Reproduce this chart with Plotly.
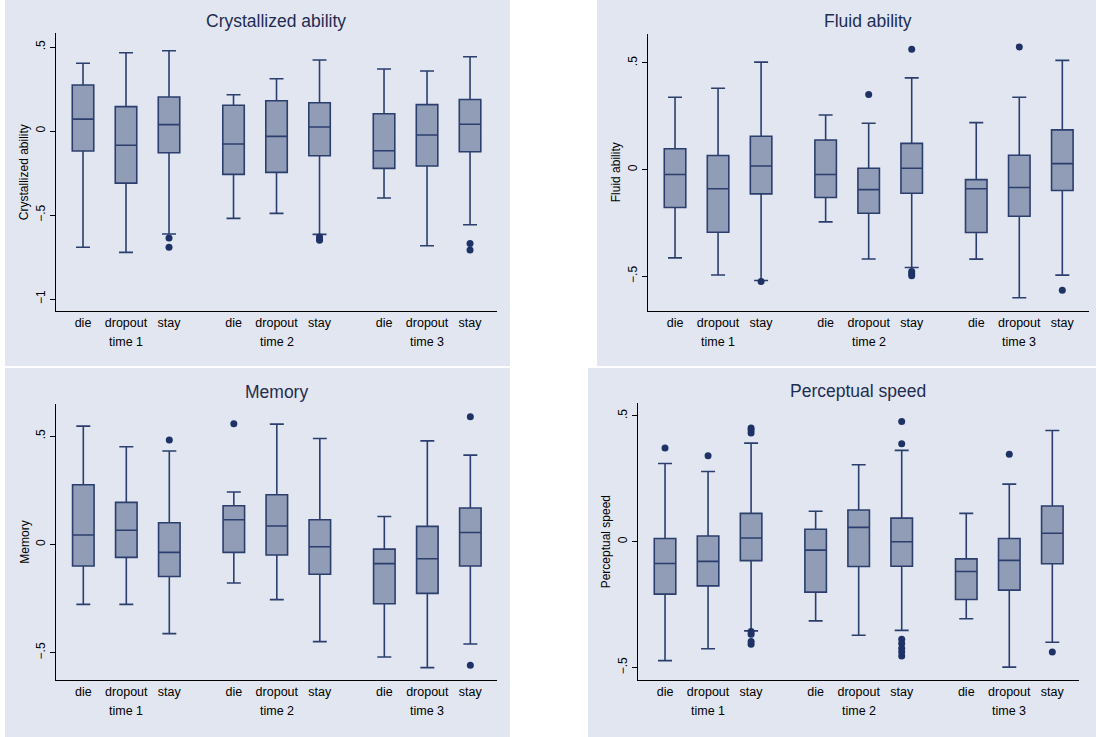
import plotly.graph_objects as go

# ---------------- data ----------------
categories = ["die", "dropout", "stay"] * 3
groups = ["time 1", "time 2", "time 3"]
positions = [1, 2, 3, 4.5, 5.5, 6.5, 8, 9, 10]
group_centers = [2, 5.5, 9]

titles = ["Crystallized ability", "Fluid ability", "Memory", "Perceptual speed"]

# Crystallized ability
cry_upper = [0.403, 0.466, 0.478, 0.216, 0.311, 0.423, 0.369, 0.357, 0.442]
cry_q3 = [0.274, 0.145, 0.202, 0.153, 0.180, 0.168, 0.103, 0.157, 0.188]
cry_med = [0.071, -0.085, 0.038, -0.077, -0.032, 0.024, -0.117, -0.024, 0.040]
cry_q1 = [-0.119, -0.310, -0.129, -0.258, -0.246, -0.147, -0.222, -0.208, -0.123]
cry_lower = [-0.692, -0.722, -0.613, -0.520, -0.490, -0.615, -0.399, -0.683, -0.558]
cry_out_x = [3, 3, 6.5, 6.5, 6.5, 10, 10]
cry_out_y = [-0.637, -0.692, -0.630, -0.640, -0.650, -0.669, -0.708]

# Fluid ability
flu_upper = [0.339, 0.381, 0.504, 0.256, 0.217, 0.430, 0.220, 0.339, 0.512]
flu_q3 = [0.098, 0.066, 0.156, 0.139, 0.006, 0.123, -0.047, 0.067, 0.186]
flu_med = [-0.023, -0.090, 0.017, -0.023, -0.094, 0.006, -0.090, -0.084, 0.028]
flu_q1 = [-0.178, -0.294, -0.114, -0.131, -0.205, -0.111, -0.295, -0.219, -0.098]
flu_lower = [-0.414, -0.494, -0.520, -0.245, -0.419, -0.459, -0.420, -0.601, -0.495]
flu_out_x = [3, 5.5, 6.5, 6.5, 6.5, 6.5, 9, 10]
flu_out_y = [-0.525, 0.352, 0.564, -0.478, -0.488, -0.498, 0.575, -0.566]

# Memory
mem_upper = [0.546, 0.451, 0.431, 0.242, 0.555, 0.489, 0.129, 0.478, 0.412]
mem_q3 = [0.275, 0.194, 0.100, 0.178, 0.229, 0.114, -0.022, 0.083, 0.168]
mem_med = [0.043, 0.065, -0.037, 0.114, 0.085, -0.011, -0.089, -0.066, 0.055]
mem_q1 = [-0.100, -0.060, -0.148, -0.037, -0.049, -0.138, -0.274, -0.226, -0.100]
mem_lower = [-0.277, -0.277, -0.412, -0.178, -0.255, -0.449, -0.520, -0.569, -0.460]
mem_out_x = [3, 4.5, 10, 10]
mem_out_y = [0.482, 0.557, 0.589, -0.558]

# Perceptual speed
per_upper = [0.311, 0.279, 0.392, 0.121, 0.306, 0.363, 0.113, 0.229, 0.442]
per_q3 = [0.013, 0.023, 0.113, 0.050, 0.126, 0.094, -0.068, 0.013, 0.142]
per_med = [-0.086, -0.078, 0.015, -0.033, 0.057, 0.000, -0.118, -0.074, 0.034]
per_q1 = [-0.208, -0.175, -0.075, -0.200, -0.098, -0.097, -0.229, -0.192, -0.087]
per_lower = [-0.472, -0.425, -0.354, -0.314, -0.371, -0.352, -0.306, -0.498, -0.399]
per_out_x = [1, 2, 3, 3, 3, 3, 3, 3, 3, 6.5, 6.5, 6.5, 6.5, 6.5, 6.5, 6.5, 9, 10]
per_out_y = [0.372, 0.342, 0.452, 0.444, 0.432, -0.356, -0.367, -0.396, -0.407,
             0.478, 0.389, -0.387, -0.404, -0.423, -0.438, -0.454, 0.348, -0.438]

y_tickvals = [[0.5, 0, -0.5, -1], [0.5, 0, -0.5], [0.5, 0, -0.5], [0.5, 0, -0.5]]
y_ticktext = [[".5", "0", "\u2212.5", "\u22121"], [".5", "0", "\u2212.5"],
              [".5", "0", "\u2212.5"], [".5", "0", "\u2212.5"]]

panels = [
    (cry_upper, cry_q3, cry_med, cry_q1, cry_lower, cry_out_x, cry_out_y),
    (flu_upper, flu_q3, flu_med, flu_q1, flu_lower, flu_out_x, flu_out_y),
    (mem_upper, mem_q3, mem_med, mem_q1, mem_lower, mem_out_x, mem_out_y),
    (per_upper, per_q3, per_med, per_q1, per_lower, per_out_x, per_out_y),
]

# ---------------- layout geometry (pixels) ----------------
W, H = 1096, 737
plot_px = [  # x0, x1, ytop, ybottom
    (55.7, 496.7, 33.3, 311.0),
    (647.7, 1089.0, 33.5, 311.0),
    (56.0, 497.0, 404.0, 680.0),
    (637.7, 1079.0, 403.3, 680.0),
]
bg_px = [
    (5, 510, 0, 366),
    (597, 1096, 0, 366),
    (5, 510, 368, 737),
    (588, 1096, 368, 737),
]
y_ranges = [[-1.071, 0.5815], [-0.663, 0.638], [-0.626, 0.648], [-0.549, 0.55]]
x_range = [0.365, 10.62]

BG = "#e1e6f0"
FILL = "#919db6"
LINE = "#2b3e6d"
DOT = "#1e3266"
GRID = "#e3e7f0"
FONT = "Liberation Sans, Arial, sans-serif"
TITLE_COLOR = "#1f2d52"

fig = go.Figure()
layout = dict(
    width=W, height=H,
    margin=dict(l=0, r=0, t=0, b=0),
    paper_bgcolor="white", plot_bgcolor="white",
    showlegend=False,
    font=dict(family=FONT, color="black"),
    shapes=[], annotations=[],
)

for i, (up, q3, med, q1, lo, ox, oy) in enumerate(panels):
    n = i + 1
    xa = "x" if n == 1 else f"x{n}"
    ya = "y" if n == 1 else f"y{n}"
    fig.add_trace(go.Box(
        x=positions, q1=q1, median=med, q3=q3, lowerfence=lo, upperfence=up,
        width=0.5, whiskerwidth=0.65, boxpoints=False,
        fillcolor=FILL, line=dict(color=LINE, width=1.6),
        xaxis=xa, yaxis=ya, hoverinfo="skip",
    ))
    fig.add_trace(go.Scatter(
        x=ox, y=oy, mode="markers",
        marker=dict(color=DOT, size=7, line=dict(width=0)),
        xaxis=xa, yaxis=ya, hoverinfo="skip",
    ))

    x0, x1, yt, yb = plot_px[i]
    xk = "xaxis" if n == 1 else f"xaxis{n}"
    yk = "yaxis" if n == 1 else f"yaxis{n}"
    layout[xk] = dict(
        domain=[x0 / W, x1 / W], anchor=ya, range=x_range,
        tickvals=positions, ticktext=categories, ticks="",
        showline=True, linecolor="black", linewidth=1,
        showgrid=False, zeroline=False, tickfont=dict(size=12.5),
    )
    layout[yk] = dict(
        domain=[1 - yb / H, 1 - yt / H], anchor=xa, range=y_ranges[i],
        tickvals=y_tickvals[i], ticktext=y_ticktext[i], tickangle=-90,
        ticks="outside", ticklen=5, tickcolor="black", tickwidth=1,
        showline=True, linecolor="black", linewidth=1,
        showgrid=True, gridcolor=GRID, gridwidth=1, zeroline=False,
        tickfont=dict(size=12),
        title=dict(text=titles[i], font=dict(size=12), standoff=2),
    )

    bx0, bx1, by0, by1 = bg_px[i]
    layout["shapes"].append(dict(
        type="rect", xref="paper", yref="paper",
        x0=bx0 / W, x1=bx1 / W, y0=1 - by1 / H, y1=1 - by0 / H,
        fillcolor=BG, line=dict(width=0), layer="below",
    ))

    # panel title
    layout["annotations"].append(dict(
        text=titles[i], xref=f"{xa} domain", yref=f"{ya} domain",
        x=0.5, y=1, xanchor="center", yanchor="bottom", yshift=0,
        showarrow=False, font=dict(size=17.5, color=TITLE_COLOR),
    ))
    # group labels
    for g, gc in zip(groups, group_centers):
        layout["annotations"].append(dict(
            text=g, xref=xa, yref=f"{ya} domain", x=gc, y=0,
            xanchor="center", yanchor="top", yshift=-22,
            showarrow=False, font=dict(size=12.5),
        ))

fig.update_layout(**layout)
fig.write_html(
    "out.html",
    config={"displayModeBar": False, "staticPlot": True},
    post_script="document.body.style.margin='0px';document.body.style.overflow='hidden';",
)
